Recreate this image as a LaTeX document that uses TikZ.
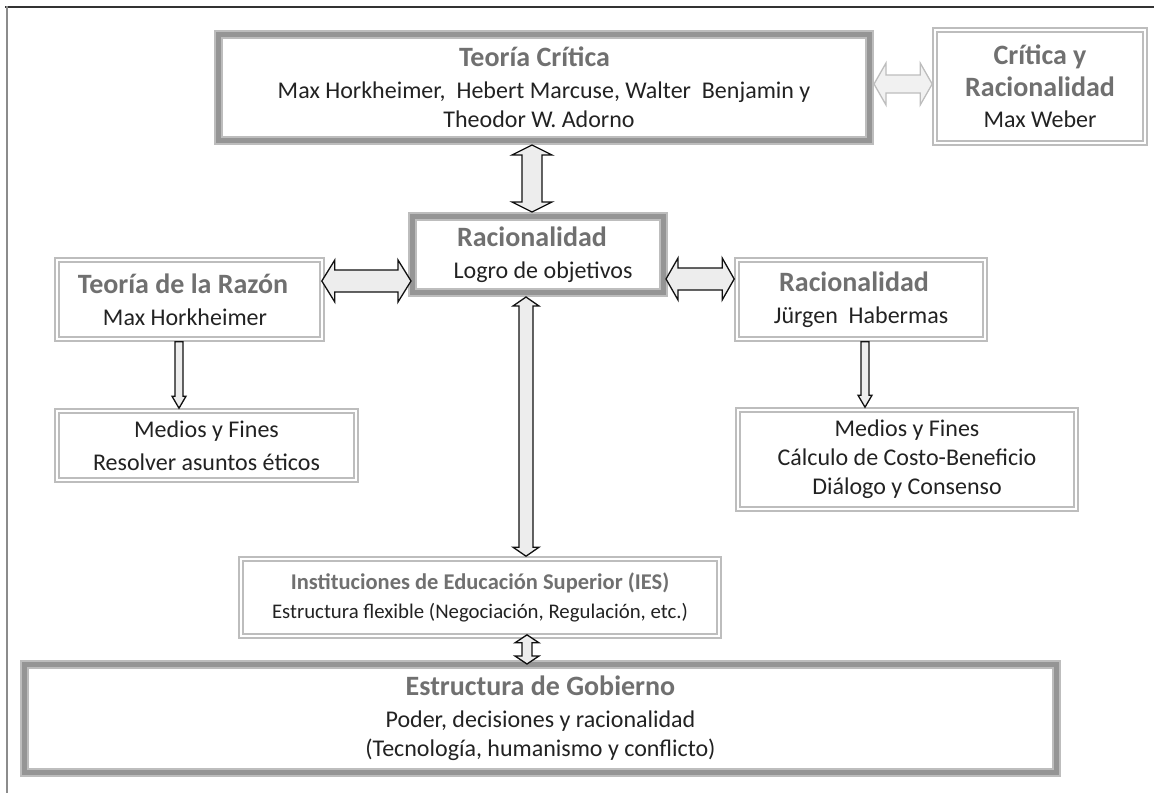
\documentclass[tikz,border=0pt]{standalone}
\usepackage{fontspec}
\setmainfont{Carlito}
\usetikzlibrary{calc}
\definecolor{titlegray}{HTML}{707070}
\definecolor{txt}{HTML}{222222}
\definecolor{bxlight}{HTML}{BDBDBD}
\definecolor{bxmid}{HTML}{959595}
\definecolor{arrfill}{HTML}{EDEDED}
\definecolor{arrline}{HTML}{111111}
\newcommand\ttl[1]{{\fontsize{28}{32}\selectfont\bfseries\color{titlegray}#1}}
\newcommand\ttlsmall[1]{{\fontsize{22.5}{27}\selectfont\bfseries\color{titlegray}#1}}
% vertical double arrow: #2 top end, #3 bottom end (x taken from #2); #4 shaft half, #5 head half, #6 head length
\newcommand\vdbl[6][]{\draw[fatarrow,#1] let \p1=(#2), \p2=(#3) in
  (\x1,\y1) -- (\x1+#5,\y1-#6) -- (\x1+#4,\y1-#6) -- (\x1+#4,\y2+#6) -- (\x1+#5,\y2+#6) -- (\x1,\y2)
  -- (\x1-#5,\y2+#6) -- (\x1-#4,\y2+#6) -- (\x1-#4,\y1-#6) -- (\x1-#5,\y1-#6) -- cycle;}
% horizontal double arrow: #2 left end, #3 right end (y taken from #2)
\newcommand\hdbl[6][]{\draw[fatarrow,#1] let \p1=(#2), \p2=(#3) in
  (\x1,\y1) -- (\x1+#6,\y1+#5) -- (\x1+#6,\y1+#4) -- (\x2-#6,\y1+#4) -- (\x2-#6,\y1+#5) -- (\x2,\y1)
  -- (\x2-#6,\y1-#5) -- (\x2-#6,\y1-#4) -- (\x1+#6,\y1-#4) -- (\x1+#6,\y1-#5) -- cycle;}
% single downward arrow
\newcommand\vdown[6][]{\draw[fatarrow,#1] let \p1=(#2), \p2=(#3) in
  (\x1-#4,\y1) -- (\x1+#4,\y1) -- (\x1+#4,\y2+#6) -- (\x1+#5,\y2+#6) -- (\x1,\y2)
  -- (\x1-#5,\y2+#6) -- (\x1-#4,\y2+#6) -- cycle;}
\tikzset{
  box/.style={rectangle, inner sep=0pt, align=center, text=txt, font=\fontsize{24}{29}\selectfont},
  thinbox/.style={box, draw=bxlight, double=white, double distance=2.6pt, line width=1.5pt, outer sep=2.8pt},
  thickbox/.style={box, draw=bxmid, line width=5pt, preaction={draw=bxlight, line width=9pt}, outer sep=4.5pt},
  fatarrow/.style={draw=arrline, fill=arrfill, line width=1.3pt, line join=miter},
  lightarrow/.style={draw=bxlight, fill=arrfill!80!white},
  frametop/.style={draw=black!80, line width=1.5pt},
  frameleft/.style={draw=black!45, line width=1.5pt},
}
\begin{document}
\begin{tikzpicture}[x=1pt,y=-1pt]
\useasboundingbox (0,0) rectangle (1154,793);
% outer frame
\coordinate (f0) at (5,7);
\coordinate (f1) at (1154,7);
\coordinate (f2) at (7,6.3);
\coordinate (f3) at (7,793);
\draw[frametop] (f0) -- (f1);
\draw[frameleft] (f2) -- (f3);
% boxes
\node[thickbox, minimum width=651pt, minimum height=106pt] (tc) at (544,87.5)
  {\ttl{Teoría Crítica}\hspace*{19pt}\\[3pt] Max Horkheimer,~ Hebert Marcuse, Walter~ Benjamin y\\ Theodor W. Adorno\hspace*{10pt}};
\node[thinbox, minimum width=210pt, minimum height=113pt] (cr) at (1040,86.5)
  {\ttl{Crítica y}\\[3pt] \ttl{Racionalidad}\\[2pt] Max Weber};
\node[thickbox, minimum width=251pt, minimum height=76pt] (rac) at (538,254.5)
  {\ttl{Racionalidad}\hspace*{12pt}\\[3pt] Logro de objetivos\hspace*{-10pt}};
\node[thinbox, minimum width=265pt, minimum height=79pt] (tr) at (189.5,299.5)
  {\ttl{Teoría de la Razón}\hspace*{13pt}\\[3pt] Max Horkheimer\hspace*{9pt}};
\node[thinbox, minimum width=248pt, minimum height=79pt] (rh) at (861,299.5)
  {\ttl{Racionalidad}\hspace*{14pt}\\[3pt] Jürgen\ \ Habermas};
\node[thinbox, minimum width=299pt, minimum height=69pt] (mf1) at (206.5,445.5)
  {Medios y Fines\\[4pt] Resolver asuntos éticos};
\node[thinbox, minimum width=338pt, minimum height=99pt] (mf2) at (907,459.5)
  {Medios y Fines\\ Cálculo de Costo-Beneficio\\ Diálogo y Consenso};
\node[thinbox, minimum width=478pt, minimum height=77pt, font=\fontsize{20.8}{26}\selectfont] (ies) at (480,597.5)
  {\ttlsmall{Instituciones de Educación Superior (IES)}\\[3pt] Estructura flexible (Negociación, Regulación, etc.)};
\node[thickbox, minimum width=1032pt, minimum height=108pt] (est) at (540.5,718.5)
  {\ttl{Estructura de Gobierno}\\[3pt] Poder, decisiones y racionalidad\\ (Tecnología, humanismo y conflicto)};
% arrows
\vdbl{$(tc.south)+(-12,0)$}{rac.north}{10pt}{20pt}{10pt}
\hdbl[lightarrow]{$(tc.east)+(0,-3.5)$}{cr.west}{9pt}{21pt}{12pt}
\hdbl{$(tr.east)+(-3,-18.5)$}{$(rac.west)+(3,0)$}{11pt}{21pt}{13pt}
\hdbl{$(rac.east)+(-2,24.5)$}{rh.west}{11pt}{21pt}{12pt}
\vdown{$(tr.south)+(-10.5,0)$}{mf1.north}{4pt}{7pt}{12pt}
\vdown{$(rh.south)+(4,0)$}{mf2.north}{4pt}{7pt}{12pt}
\vdbl{$(rac.south)+(-12,0)$}{ies.north}{7pt}{13pt}{9pt}
\vdbl{$(ies.south)+(47,-4)$}{$(est.north)+(0,4)$}{5pt}{12pt}{8pt}
\end{tikzpicture}
\end{document}
